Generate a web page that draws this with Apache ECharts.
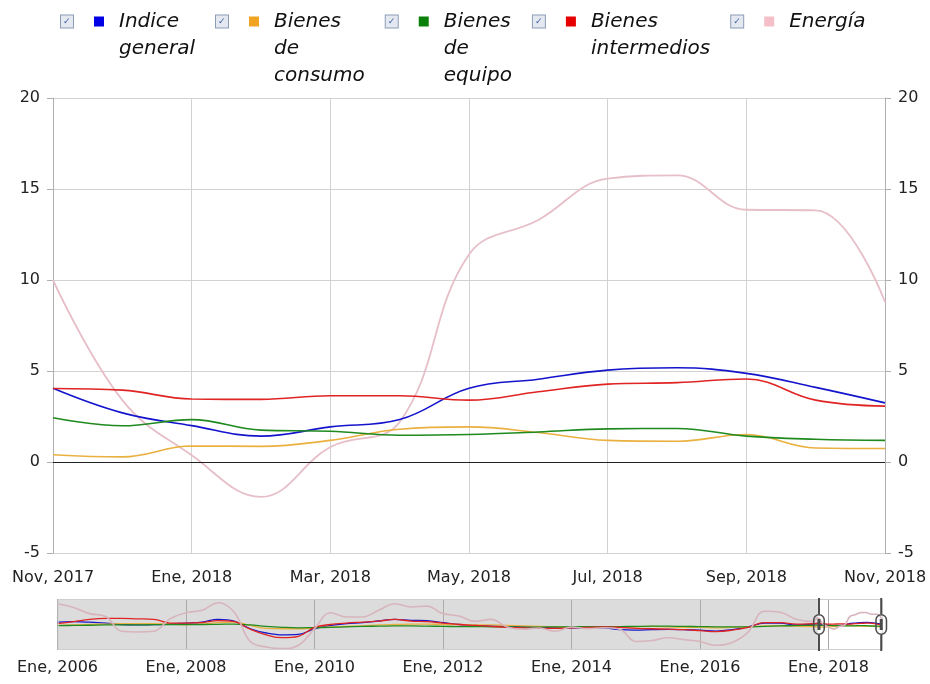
<!DOCTYPE html>
<html><head><meta charset="utf-8">
<script src="https://cdn.jsdelivr.net/npm/echarts@6/dist/echarts.min.js"></script>
<style>html,body{margin:0;padding:0;background:#fff}#c{width:930px;height:684px}</style>
</head><body><div id="c"></div>
<script>
// ---- labels ----
const monthNames = ['Ene','Feb','Mar','Abr','May','Jun','Jul','Ago','Sep','Oct','Nov','Dic'];
const startYear = 2006;
const monthCount = 155; // Ene 2006 .. Nov 2018
const seriesNames = ['Indice general','Bienes de consumo','Bienes de equipo','Bienes intermedios','Energía'];
const legendLines = [['Indice','general'],['Bienes','de','consumo'],['Bienes','de','equipo'],['Bienes','intermedios'],['Energía']];
const seriesColors = ['#1414cc','#eab040','#1f8a1f','#e02424','#e6bfc8'];
const legendColors = ['#0000e6','#f0a422','#0a800a','#e60000','#f5bfc8'];

// ---- history (quarterly readings from overview), month index from Ene 2006 ----
const histIdx = [0,3,6,9,12,15,18,21,24,27,30,33,36,39,42,45,48,51,54,57,60,63,66,69,72,75,78,81,84,87,90,93,96,99,102,105,108,111,114,117,120,123,126,129,132,135,138,141];
const histGeneral = [5.5,6,5.5,4.5,3,2.5,2.8,3.5,4.5,5.5, 8.5,6.5,-1.5,-6,-8,-7.5,-1.5,2,4,5, 6.7,8.5,7.4,7,5,3,2,1.5,1,0.5, 0,-0.2,-0.5,-0.5,-0.5,-2.5,-3,-2.5,-2.2,-2.5, -3,-4,-2.5,0.5,4.5,4.5,2.5,3.5];
const histConsumo = [2,2.5,3,3.5,4,4,3.8,3.5,3,3.5, 5,5.5,2,-1,-1.5,-1.5,-0.5,0.5,1,1.5, 2.5,3,3.5,3.5,3,3,2.5,2.5,2,1.5, 1,0.5,0,0,0,0,0.5,1,0.5,0, 0,-0.5,0,0.5,1.5,1.5,1.2,0.8];
const histEquipo = [1.8,2,2.2,2.5,2.5,2.5,2.8,3,3,3, 3.2,3.5,2.5,1,0,-0.5,-0.3,0,0.5,1, 1.2,1.5,1.5,1.3,1,0.8,0.7,0.6,0.5,0.3, 0.3,0.5,0.6,0.6,0.7,0.8,1,1.2,1.2,1, 0.8,0.5,0.5,0.5,1,1.5,1.8,2.2];
const histIntermedios = [4,6,8.5,9.5,9.5,9,8.5,4.5,4.5,5, 7,6,-2,-8,-11,-9.5,0,3,4.5,5.5, 6.5,8.5,6.5,6,4.5,3,2,1,0,-0.5, -1,-1,-0.5,0,0.5,0,-1,-1.5,-2,-2.5, -3.5,-4.5,-3,0,5,5,3.5,3.8];
const histEnergia = [25,21,14.5,11.5,-4.2,-4.9,-4.2,9,15.5,18, 26,16,-15,-20.8,-22.5,-19,-1.4,15.5,11,11, 18,25,21.5,22.5,14.5,12,6.3,8.4,0.4,-2, -0.7,-4.2,0.4,-1.4,-0.5,-2,-15,-14,-11,-13, -15,-19,-16,-5,17,16,8.5,6];

// ---- monthly values, Nov 2017 .. Nov 2018 ----
const recentIdx = [142,143,144,145,146,147,148,149,150,151,152,153,154];
const general = [4.05,2.7,2.0,1.42,1.93,2.33,4.05,4.55,5.05,5.18,4.87,4.1,3.25];
const consumo = [0.40,0.28,0.88,0.86,1.19,1.80,1.93,1.62,1.19,1.14,1.51,0.77,0.74];
const equipo = [2.43,1.99,2.33,1.75,1.69,1.47,1.51,1.65,1.82,1.84,1.42,1.25,1.19];
const intermedios = [4.04,3.95,3.46,3.44,3.64,3.64,3.40,3.86,4.28,4.36,4.56,3.40,3.07];
const energia = [10.0,3.4,0.37,-1.92,0.82,2.2,11.4,13.3,15.57,15.75,13.86,13.83,8.79];

const yTicksMain = {min:-5, max:20, interval:5};

const months = [];
for (let i = 0; i < monthCount; i++) months.push(monthNames[i % 12] + ', ' + (startYear + Math.floor(i / 12)));

const hist = [histGeneral, histConsumo, histEquipo, histIntermedios, histEnergia];
const recent = [general, consumo, equipo, intermedios, energia];
function pairs(k) {
  return histIdx.map((m, i) => [months[m], hist[k][i]])
    .concat(recentIdx.map((m, i) => [months[m], recent[k][i]]));
}
const winStart = recentIdx[0], winEnd = recentIdx[recentIdx.length - 1];

const font = 'DejaVu Sans';
const series = [];
seriesNames.forEach((name, k) => {
  const s = {
    name, type: 'line', xAxisIndex: 0, yAxisIndex: 0, data: pairs(k),
    smooth: 0.4, symbol: 'none', showSymbol: false,
    lineStyle: {color: seriesColors[k], width: k === 4 ? 1.8 : 1.6},
    itemStyle: {color: seriesColors[k]}, z: k === 4 ? 2 : 3
  };
  if (k === 0) {
    s.markLine = {silent: true, symbol: 'none', label: {show: false},
      lineStyle: {color: '#222', type: 'solid', width: 1.2}, data: [{yAxis: 0}]};
  }
  series.push(s);
});
seriesNames.forEach((name, k) => {
  series.push({
    name, type: 'line', xAxisIndex: 1, yAxisIndex: 2, data: pairs(k),
    smooth: 0.4, symbol: 'none', showSymbol: false, silent: true,
    lineStyle: {color: k === 4 ? '#d8b4bc' : seriesColors[k], width: k === 4 ? 1.6 : 1.3},
    itemStyle: {color: seriesColors[k]}, z: 2
  });
});
series.push({
  name: '_mask', type: 'line', xAxisIndex: 1, yAxisIndex: 2, data: [], silent: true, z: 5,
  markArea: {silent: true, itemStyle: {color: 'rgba(178,178,178,0.45)'},
    data: [[{xAxis: months[0]}, {xAxis: months[winStart]}]]}
});

const rich = {
  cb: {width: 10, height: 12, padding: [0, 0, 0, 2], backgroundColor: '#e3e8f1', borderColor: '#8d9cb6', borderWidth: 1,
       fontSize: 9, fontStyle: 'normal', color: '#3c5ea6', fontFamily: font},
  g1: {width: 21, fontSize: 10},
  g2: {width: 15, fontSize: 10},
  ind: {width: 58, fontSize: 10},
  t: {fontSize: 20, fontStyle: 'italic', lineHeight: 27, color: '#111', fontFamily: font}
};
legendColors.forEach((c, k) => { rich['sq' + k] = {width: 10, height: 10, backgroundColor: c, fontSize: 8}; });

const even2 = (idx) => idx % 2 === winStart % 2;
const every24 = (idx) => idx % 24 === 0;

const option = {
  backgroundColor: '#fff',
  animation: false,
  textStyle: {fontFamily: font},
  legend: {
    data: seriesNames, top: 8, left: 55, padding: 0, itemGap: 15,
    itemWidth: 0, itemHeight: 0, selectedMode: false,
    textStyle: {fontFamily: font, fontSize: 20, fontStyle: 'italic', lineHeight: 27, color: '#111', rich},
    formatter: (name) => {
      const k = seriesNames.indexOf(name);
      const L = legendLines[k];
      const out = [];
      for (let i = 0; i < 3; i++) {
        const w = L[i] || ' ';
        out.push(i === 0 ? `{cb|✓}{g1| }{sq${k}| }{g2| }{t|${w}}` : `{ind| }{t|${w}}`);
      }
      return out.join('\n');
    }
  },
  grid: [
    {left: 53, right: 45, top: 98, bottom: 131},
    {left: 57.5, right: 48, top: 599, height: 51}
  ],
  xAxis: [
    {type: 'category', gridIndex: 0, data: months, boundaryGap: false,
     axisLine: {show: false}, axisTick: {show: false},
     axisLabel: {interval: even2, fontSize: 16, color: '#222', margin: 17, fontFamily: font},
     splitLine: {show: true, interval: even2, lineStyle: {color: '#d2d2d2', width: 1}}},
    {type: 'category', gridIndex: 1, data: months, boundaryGap: false,
     axisLine: {show: false},
     axisTick: {show: true, interval: every24, length: 6, lineStyle: {color: '#aaa'}},
     axisLabel: {interval: every24, fontSize: 16, color: '#222', margin: 10, fontFamily: font},
     splitLine: {show: true, interval: every24, lineStyle: {color: '#a8a8a8', width: 1}}}
  ],
  yAxis: [
    {type: 'value', gridIndex: 0, position: 'left', min: yTicksMain.min, max: yTicksMain.max, interval: yTicksMain.interval,
     axisLine: {show: true, lineStyle: {color: '#b0b0b0'}},
     axisTick: {show: true, length: 6, lineStyle: {color: '#b0b0b0'}},
     axisLabel: {fontSize: 16, color: '#222', margin: 13, fontFamily: font},
     splitLine: {show: true, lineStyle: {color: '#d2d2d2', width: 1}}},
    {type: 'value', gridIndex: 0, position: 'right', min: yTicksMain.min, max: yTicksMain.max, interval: yTicksMain.interval,
     axisLine: {show: true, lineStyle: {color: '#b0b0b0'}},
     axisTick: {show: true, length: 6, lineStyle: {color: '#b0b0b0'}},
     axisLabel: {fontSize: 16, color: '#222', margin: 13, fontFamily: font},
     splitLine: {show: false}},
    {type: 'value', gridIndex: 1, min: -24, max: 30, show: false, splitLine: {show: false}}
  ],
  dataZoom: [{
    type: 'slider', xAxisIndex: 0, filterMode: 'filter',
    startValue: winStart, endValue: winEnd,
    left: 57.5, right: 48, top: 599, height: 51,
    showDataShadow: false, showDetail: false, brushSelect: false, moveHandleSize: 0,
    backgroundColor: 'rgba(0,0,0,0)', fillerColor: 'rgba(0,0,0,0)', borderColor: '#cfcfcf',
    handleIcon: 'path://M-1,0H1V16H-1Z M-6,22A6,6,0,0,1,6,22V31A6,6,0,0,1,-6,31Z M-4.5,22V31A4.5,4.5,0,0,0,4.5,31V22A4.5,4.5,0,0,0,-4.5,22Z M-1.5,21H1.5V32H-1.5Z M-1,37H1V53H-1Z',
    handleSize: '104%',
    handleStyle: {color: '#4a4a4a', borderWidth: 0},
    dataBackground: {lineStyle: {opacity: 0}, areaStyle: {opacity: 0}},
    selectedDataBackground: {lineStyle: {opacity: 0}, areaStyle: {opacity: 0}},
    emphasis: {handleStyle: {color: '#4a4a4a', borderWidth: 0}}
  }],
  series
};
const chart = echarts.init(document.getElementById('c'), null, {renderer: 'canvas'});
chart.setOption(option);
</script></body></html>
